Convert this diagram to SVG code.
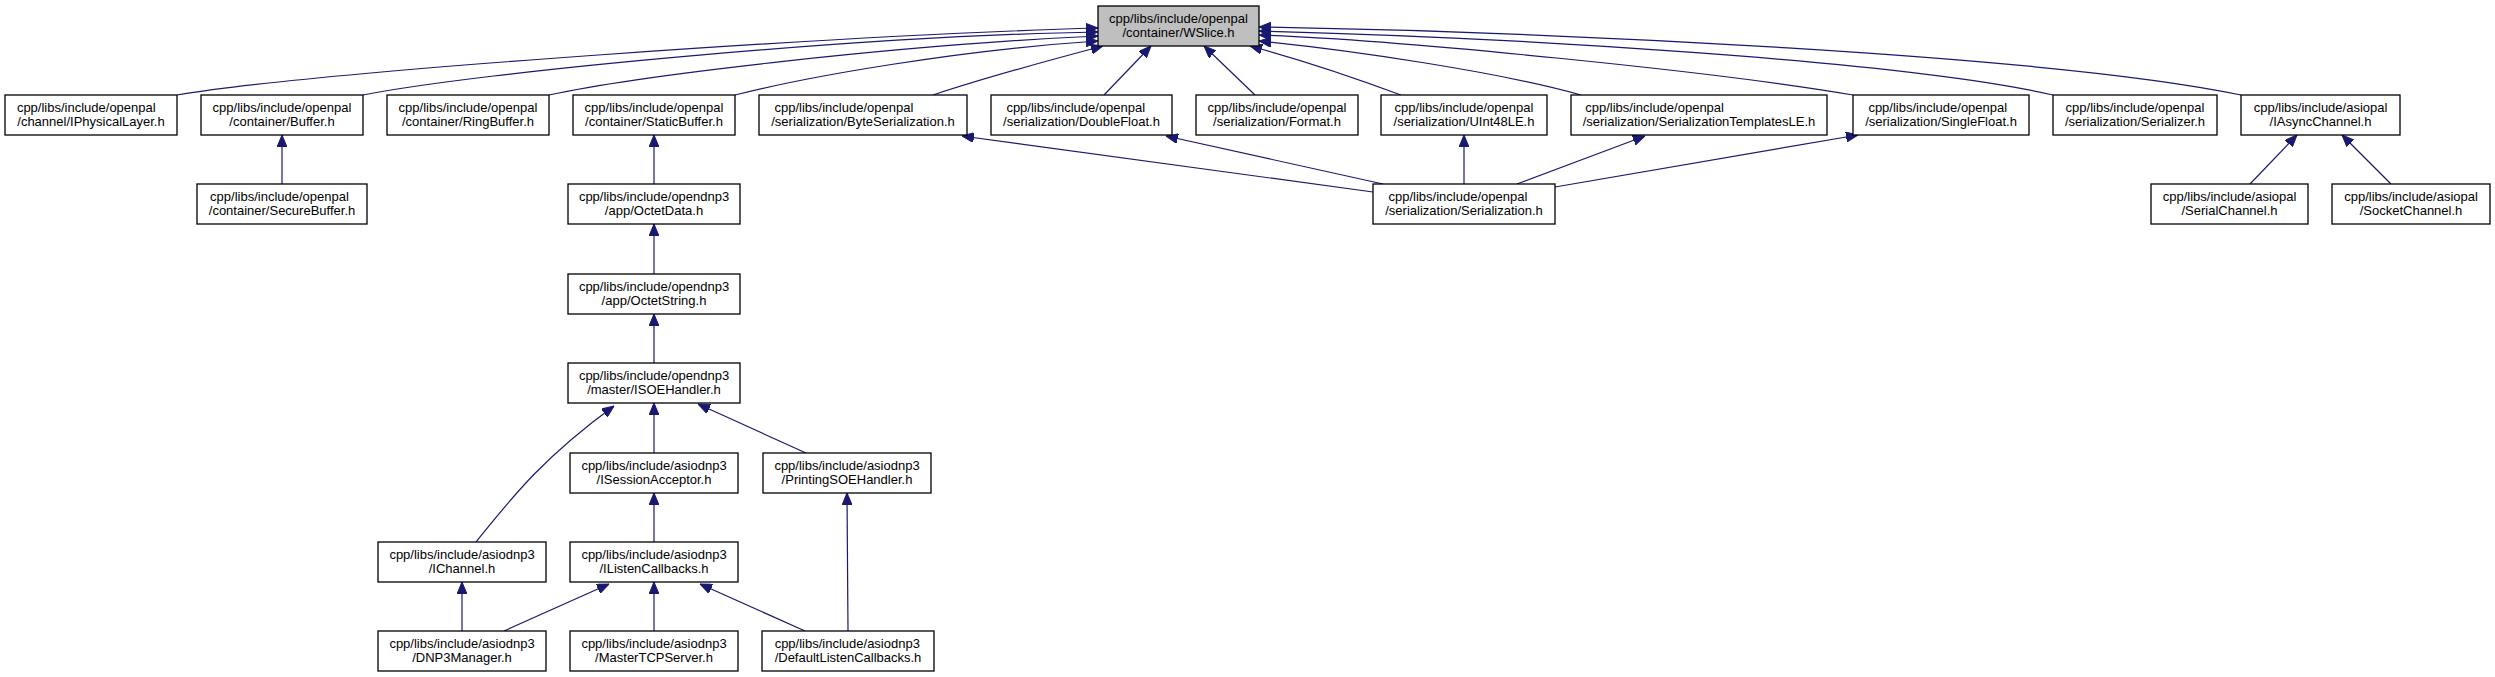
<svg xmlns="http://www.w3.org/2000/svg" width="2495" height="677" viewBox="0 0 2495 677">
<style>
.n rect{fill:#fff;stroke:#000;stroke-width:1.3}
.n.hl rect{fill:#bfbfbf}
.n text{font-family:"Liberation Sans",Arial,sans-serif;font-size:13px;fill:#000}
.n .l2{text-anchor:middle}
.e path{fill:none;stroke:#191970;stroke-width:1.2;marker-end:url(#arr)}
</style>
<defs>
<marker id="arr" markerUnits="userSpaceOnUse" markerWidth="12" markerHeight="10" refX="12" refY="5" orient="auto">
<path d="M0,0 L12,5 L0,10 z" fill="#191970" stroke="#191970" stroke-width="1"/>
</marker>
</defs>
<rect width="2495" height="677" fill="#fff"/>
<g id="edges" class="e">
<path d="M177,95 C330,70 850,35 1098,28"/>
<path d="M363,95 C480,72 860,36 1098,32"/>
<path d="M549,95 C640,75 900,45 1098,36"/>
<path d="M735,95 C810,76 960,50 1098,41"/>
<path d="M933,95 C990,76 1050,60 1103,46"/>
<path d="M1104,95 L1151,46"/>
<path d="M1255,95 L1204,46"/>
<path d="M1401,95 C1350,76 1295,58 1250,46"/>
<path d="M1581,95 C1500,72 1350,50 1259,41"/>
<path d="M1853,95 C1720,72 1400,40 1259,35"/>
<path d="M2053,95 C1900,60 1500,37 1259,31"/>
<path d="M2241,95 C2050,55 1550,32 1259,27"/>
<path d="M1373,192 L962,136"/>
<path d="M1383,184 L1166,136"/>
<path d="M1464,184 L1464,135"/>
<path d="M1517,184 L1645,136"/>
<path d="M1555,187 L1858,135"/>
<path d="M282,184 L282,135"/>
<path d="M654,184 L654,135"/>
<path d="M654,274 L654,224"/>
<path d="M654,363 L654,314"/>
<path d="M654,453 L654,403"/>
<path d="M806,453 L698,404"/>
<path d="M476,542 C510,500 540,460 614,406"/>
<path d="M654,542 L654,493"/>
<path d="M462,631 L462,582"/>
<path d="M504,631 L609,584"/>
<path d="M654,631 L654,582"/>
<path d="M805,631 L700,584"/>
<path d="M848,631 L847,493"/>
<path d="M2250,184 L2297,135"/>
<path d="M2391,184 L2342,135"/>
</g>
<g id="WSlice" class="n hl"><rect x="1098" y="6" width="161" height="40"/><text x="1109.1" y="22.5">cpp/libs/include/openpal</text><text class="l2" x="1178.5" y="36.5">/container/WSlice.h</text></g>
<g id="IPhysicalLayer" class="n"><rect x="5" y="95" width="172" height="40"/><text x="16.9" y="111.5">cpp/libs/include/openpal</text><text class="l2" x="91" y="125.5">/channel/IPhysicalLayer.h</text></g>
<g id="Buffer" class="n"><rect x="201" y="95" width="162" height="40"/><text x="212.6" y="111.5">cpp/libs/include/openpal</text><text class="l2" x="282" y="125.5">/container/Buffer.h</text></g>
<g id="RingBuffer" class="n"><rect x="387" y="95" width="162" height="40"/><text x="398.6" y="111.5">cpp/libs/include/openpal</text><text class="l2" x="468" y="125.5">/container/RingBuffer.h</text></g>
<g id="StaticBuffer" class="n"><rect x="573" y="95" width="162" height="40"/><text x="584.6" y="111.5">cpp/libs/include/openpal</text><text class="l2" x="654" y="125.5">/container/StaticBuffer.h</text></g>
<g id="ByteSerialization" class="n"><rect x="759" y="95" width="208" height="40"/><text x="774.5" y="111.5">cpp/libs/include/openpal</text><text class="l2" x="863" y="125.5">/serialization/ByteSerialization.h</text></g>
<g id="DoubleFloat" class="n"><rect x="991" y="95" width="181" height="40"/><text x="1006.4" y="111.5">cpp/libs/include/openpal</text><text class="l2" x="1081.5" y="125.5">/serialization/DoubleFloat.h</text></g>
<g id="Format" class="n"><rect x="1196" y="95" width="162" height="40"/><text x="1207.6" y="111.5">cpp/libs/include/openpal</text><text class="l2" x="1277" y="125.5">/serialization/Format.h</text></g>
<g id="UInt48LE" class="n"><rect x="1381" y="95" width="166" height="40"/><text x="1394.6" y="111.5">cpp/libs/include/openpal</text><text class="l2" x="1464" y="125.5">/serialization/UInt48LE.h</text></g>
<g id="SerializationTemplatesLE" class="n"><rect x="1571" y="95" width="256" height="40"/><text x="1585.2" y="111.5">cpp/libs/include/openpal</text><text class="l2" x="1699" y="125.5">/serialization/SerializationTemplatesLE.h</text></g>
<g id="SingleFloat" class="n"><rect x="1853" y="95" width="176" height="40"/><text x="1868.4" y="111.5">cpp/libs/include/openpal</text><text class="l2" x="1941" y="125.5">/serialization/SingleFloat.h</text></g>
<g id="Serializer" class="n"><rect x="2053" y="95" width="164" height="40"/><text x="2065.6" y="111.5">cpp/libs/include/openpal</text><text class="l2" x="2135" y="125.5">/serialization/Serializer.h</text></g>
<g id="IAsyncChannel" class="n"><rect x="2241" y="95" width="159" height="40"/><text x="2253.7" y="111.5">cpp/libs/include/asiopal</text><text class="l2" x="2320.5" y="125.5">/IAsyncChannel.h</text></g>
<g id="SecureBuffer" class="n"><rect x="197" y="184" width="170" height="40"/><text x="210.1" y="200.5">cpp/libs/include/openpal</text><text class="l2" x="282" y="214.5">/container/SecureBuffer.h</text></g>
<g id="OctetData" class="n"><rect x="568" y="184" width="172" height="40"/><text x="578.9" y="200.5">cpp/libs/include/opendnp3</text><text class="l2" x="654" y="214.5">/app/OctetData.h</text></g>
<g id="Serialization" class="n"><rect x="1373" y="184" width="182" height="40"/><text x="1388.5" y="200.5">cpp/libs/include/openpal</text><text class="l2" x="1464" y="214.5">/serialization/Serialization.h</text></g>
<g id="SerialChannel" class="n"><rect x="2151" y="184" width="157" height="40"/><text x="2162.7" y="200.5">cpp/libs/include/asiopal</text><text class="l2" x="2229.5" y="214.5">/SerialChannel.h</text></g>
<g id="SocketChannel" class="n"><rect x="2332" y="184" width="158" height="40"/><text x="2344.2" y="200.5">cpp/libs/include/asiopal</text><text class="l2" x="2411" y="214.5">/SocketChannel.h</text></g>
<g id="OctetString" class="n"><rect x="568" y="274" width="172" height="40"/><text x="578.9" y="290.5">cpp/libs/include/opendnp3</text><text class="l2" x="654" y="304.5">/app/OctetString.h</text></g>
<g id="ISOEHandler" class="n"><rect x="568" y="363" width="172" height="40"/><text x="578.9" y="379.5">cpp/libs/include/opendnp3</text><text class="l2" x="654" y="393.5">/master/ISOEHandler.h</text></g>
<g id="ISessionAcceptor" class="n"><rect x="570" y="453" width="168" height="40"/><text x="581.4" y="469.5">cpp/libs/include/asiodnp3</text><text class="l2" x="654" y="483.5">/ISessionAcceptor.h</text></g>
<g id="PrintingSOEHandler" class="n"><rect x="763" y="453" width="168" height="40"/><text x="774.4" y="469.5">cpp/libs/include/asiodnp3</text><text class="l2" x="847" y="483.5">/PrintingSOEHandler.h</text></g>
<g id="IChannel" class="n"><rect x="378" y="542" width="168" height="40"/><text x="389.4" y="558.5">cpp/libs/include/asiodnp3</text><text class="l2" x="462" y="572.5">/IChannel.h</text></g>
<g id="IListenCallbacks" class="n"><rect x="570" y="542" width="168" height="40"/><text x="581.4" y="558.5">cpp/libs/include/asiodnp3</text><text class="l2" x="654" y="572.5">/IListenCallbacks.h</text></g>
<g id="DNP3Manager" class="n"><rect x="378" y="631" width="168" height="40"/><text x="389.4" y="647.5">cpp/libs/include/asiodnp3</text><text class="l2" x="462" y="661.5">/DNP3Manager.h</text></g>
<g id="MasterTCPServer" class="n"><rect x="570" y="631" width="168" height="40"/><text x="581.4" y="647.5">cpp/libs/include/asiodnp3</text><text class="l2" x="654" y="661.5">/MasterTCPServer.h</text></g>
<g id="DefaultListenCallbacks" class="n"><rect x="762" y="631" width="172" height="40"/><text x="774.65" y="647.5">cpp/libs/include/asiodnp3</text><text class="l2" x="848" y="661.5">/DefaultListenCallbacks.h</text></g>
</svg>
